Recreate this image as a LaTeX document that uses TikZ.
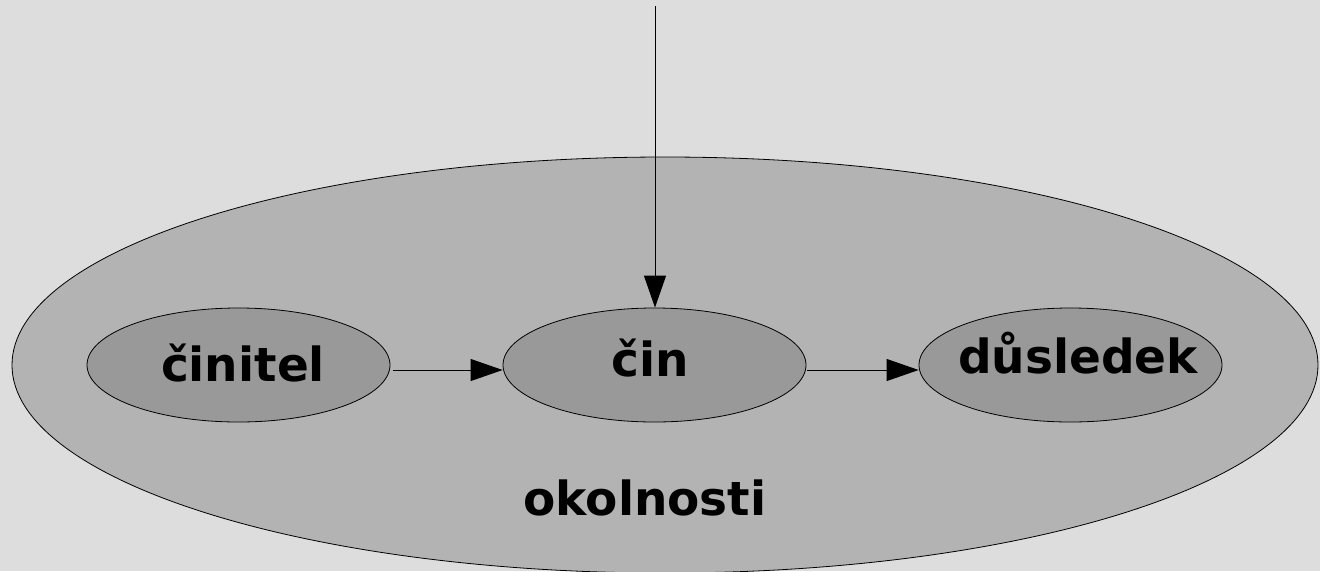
\documentclass[tikz,border=0pt]{standalone}
\usepackage{fontspec}
\setmainfont{DejaVu Sans}
\usetikzlibrary{shapes.geometric,arrows.meta}
\definecolor{bgc}{HTML}{DDDDDD}
\definecolor{outerc}{HTML}{B3B3B3}
\definecolor{innerc}{HTML}{999999}
\tikzset{
  inner/.style={ellipse,draw=black,fill=innerc,line width=0.8pt,minimum width=303pt,minimum height=114pt,inner sep=0pt},
  lbl/.style={anchor=base,inner sep=0pt,font=\bfseries\fontsize{47pt}{50pt}\selectfont},
  conn/.style={draw=black,line width=1pt,-{Triangle[length=32pt,width=22pt]}}
}
\begin{document}
\begin{tikzpicture}[x=1pt,y=-1pt]
\fill[bgc] (0,0) rectangle (1320,571);
\useasboundingbox (0,0) rectangle (1320,571);
\node[ellipse,draw=black,fill=outerc,line width=0.8pt,minimum width=1306pt,minimum height=416pt,inner sep=0pt] (okolnostiE) at (665,365) {};
\node[inner] (cinitel) at (238.5,365) {};
\node[inner] (cin) at (654.5,365) {};
\node[inner] (dusledek) at (1070.5,365) {};
\node[lbl] (tcinitel) at (243,381) {činitel};
\node[lbl] (tcin) at (650,376) {čin};
\node[lbl] (tdusledek) at (1078,373) {důsledek};
\node[lbl] (tokolnosti) at (645,515) {okolnosti};
\coordinate (top) at (655,6);
\path[conn] (cinitel.east |- 0,370) ++(3,0) -- (cin.west |- 0,370);
\path[conn] ([xshift=1pt]cin.east |- 0,370) -- (dusledek.west |- 0,370);
\path[conn] (top) -- (top |- cin.north);
\end{tikzpicture}
\end{document}
